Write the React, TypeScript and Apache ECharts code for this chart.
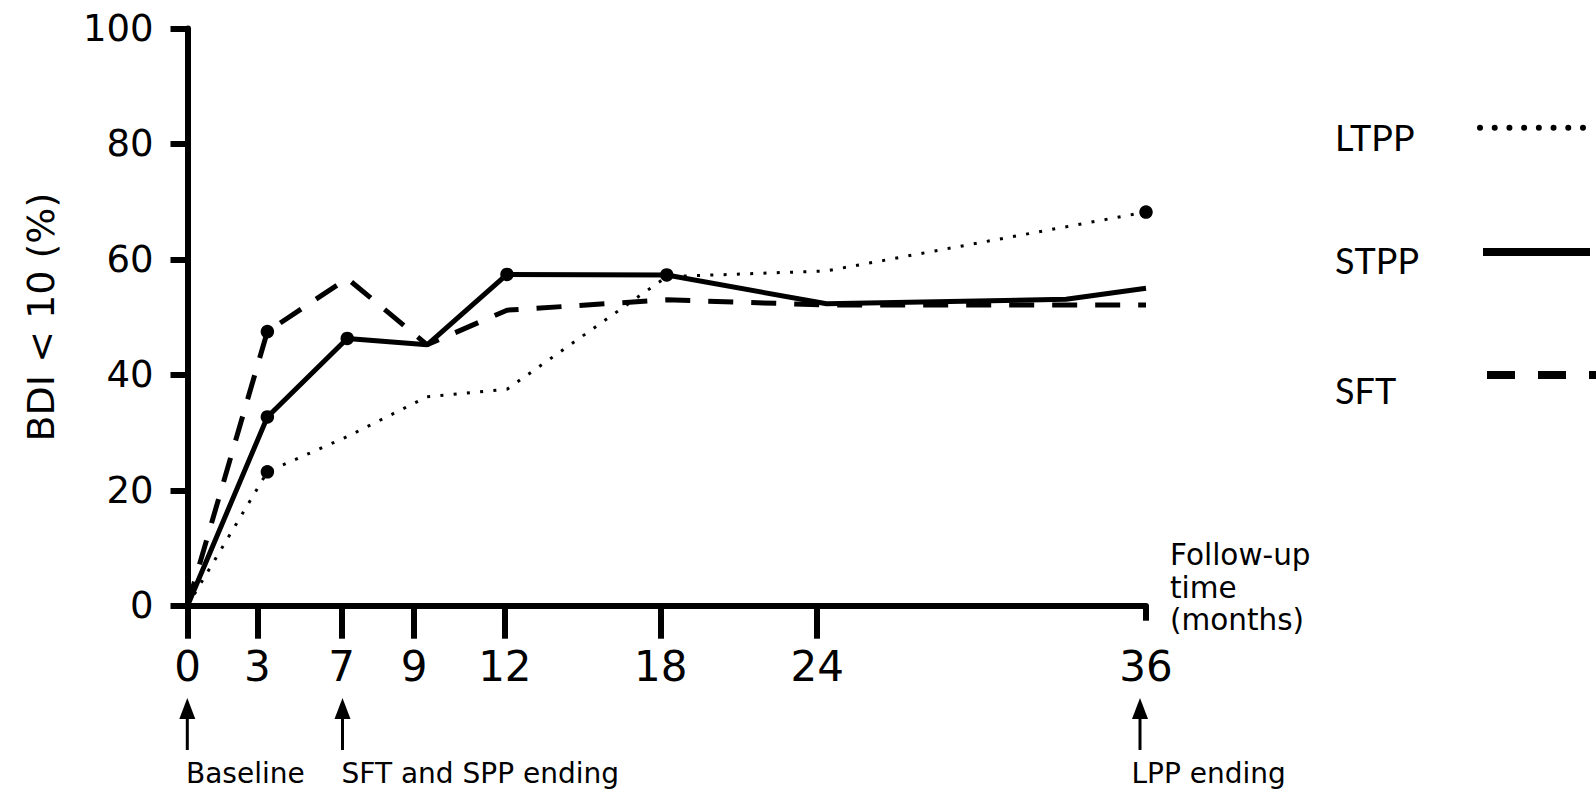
import { useEffect, useRef } from 'react';
import * as echarts from 'echarts';

// x tick labels (months) and where they sit on the axis (axis units)
const tickLabels = ['0', '3', '7', '9', '12', '18', '24', '36'];
const tickPositions = [0, 2.62, 5.79, 8.51, 11.92, 17.77, 23.65, 36];

// series (x in axis units, y = % with BDI < 10)
const ltppX = [0, 3, 6, 9, 12, 18, 24, 36];
const ltppY = [0, 23.2, 29.3, 36.2, 37.5, 57, 58, 68.2];
const ltppDots = [3, 36];

const stppX = [0, 3, 6, 9, 12, 18, 24, 33, 36];
const stppY = [0, 32.7, 46.3, 45.2, 57.4, 57.3, 52.3, 53.1, 55];
const stppDots = [3, 6, 12, 18];

const sftX = [0, 3, 6, 9, 12, 18, 24, 36];
const sftY = [0, 47.5, 56.7, 45.2, 51.2, 53, 52.1, 52.1];
const sftDots = [3];

const yTicks = [0, 20, 40, 60, 80, 100];

const FONT = 'DejaVu Sans';

function build(xs: number[], ys: number[], dots: number[]) {
  return xs.map((x, i) => ({
    value: [x, ys[i]],
    symbol: dots.includes(x) ? 'circle' : 'none',
  }));
}

export default function App() {
  const ref = useRef<HTMLDivElement>(null);
  useEffect(() => {
    if (!ref.current) return;
    const chart = echarts.init(ref.current, null, { renderer: 'svg' });
    const lineBase = { type: 'line' as const, showSymbol: true, symbolSize: 13.5, clip: false, itemStyle: { color: '#000' } };

    const arrows: any[] = [];
    const arrowX = [187.3, 342.5, 1140];
    arrowX.forEach((x) => {
      arrows.push({
        type: 'polygon',
        shape: { points: [[x, 698], [x - 8, 719], [x + 8, 719]] },
        style: { fill: '#000' },
      });
      arrows.push({
        type: 'line',
        shape: { x1: x, y1: 716, x2: x, y2: 750 },
        style: { stroke: '#000', lineWidth: 3 },
      });
    });
    const notes = [
      { t: 'Baseline', x: 186 },
      { t: 'SFT and SPP ending', x: 341.5 },
      { t: 'LPP ending', x: 1131.5 },
    ];
    notes.forEach((n) => {
      arrows.push({
        type: 'text',
        style: { text: n.t, x: n.x, y: 773, fontSize: 28, fontFamily: FONT, fill: '#000', verticalAlign: 'middle', align: 'left' },
      });
    });

    const legendItems = [
      { t: 'LTPP', ty: 136.7, ly: 127.7, x1: 1480, x2: 1590, w: 6, dash: [0.01, 14.7], cap: 'round' },
      { t: 'STPP', ty: 260, ly: 252, x1: 1483, x2: 1590, w: 8, dash: null, cap: 'butt' },
      { t: 'SFT', ty: 390, ly: 375, x1: 1487, x2: 1600, w: 8, dash: [28, 23], cap: 'butt' },
    ];
    const legend: any[] = [];
    legendItems.forEach((l) => {
      legend.push({
        type: 'text',
        style: { text: l.t, x: 1335, y: l.ty, fontSize: 36, fontFamily: 'Lato', fill: '#000', verticalAlign: 'middle' },
      });
      legend.push({
        type: 'line',
        shape: { x1: l.x1, y1: l.ly, x2: l.x2, y2: l.ly },
        style: { stroke: '#000', lineWidth: l.w, lineDash: l.dash || undefined, lineCap: l.cap },
      });
    });

    chart.setOption({
      animation: false,
      backgroundColor: '#fff',
      grid: { left: 187.5, right: 450, top: 28.5, bottom: 183.3 },
      xAxis: [
        {
          type: 'value',
          min: 0,
          max: 36,
          position: 'bottom',
          axisLine: { show: true, lineStyle: { color: '#000', width: 6 } },
          axisTick: { show: true, customValues: tickPositions.slice(0, -1), length: 33, lineStyle: { color: '#000', width: 6 } },
          axisLabel: {
            show: true,
            customValues: tickPositions,
            formatter: (v: number) => {
              const i = tickPositions.indexOf(v);
              return i >= 0 ? tickLabels[i] : '';
            },
            margin: 40,
            fontSize: 42,
            fontFamily: FONT,
            color: '#000',
          },
          splitLine: { show: false },
        },
        {
          type: 'value',
          min: 0,
          max: 36,
          position: 'bottom',
          axisLine: { show: false },
          axisTick: { show: true, customValues: [36], length: 15, lineStyle: { color: '#000', width: 6 } },
          axisLabel: { show: false },
          splitLine: { show: false },
        },
      ],
      yAxis: {
        type: 'value',
        min: 0,
        max: 100,
        interval: 20,
        name: 'BDI < 10 (%)',
        nameLocation: 'middle',
        nameGap: 128,
        nameTextStyle: { fontSize: 38, fontFamily: FONT, color: '#000' },
        axisLine: { show: true, lineStyle: { color: '#000', width: 6 } },
        axisTick: { show: true, customValues: yTicks, length: 17, lineStyle: { color: '#000', width: 6 } },
        axisLabel: { margin: 34, fontSize: 37, fontFamily: FONT, color: '#000' },
        splitLine: { show: false },
      },
      series: [
        {
          ...lineBase,
          name: 'LTPP',
          data: build(ltppX, ltppY, ltppDots),
          lineStyle: { color: '#000', width: 3, type: [3, 10.3] },
          z: 2,
        },
        {
          ...lineBase,
          name: 'STPP',
          data: build(stppX, stppY, stppDots),
          lineStyle: { color: '#000', width: 5, type: 'solid' },
          z: 3,
        },
        {
          ...lineBase,
          name: 'SFT',
          data: build(sftX, sftY, sftDots),
          lineStyle: { color: '#000', width: 5, type: [25, 18] },
          z: 2,
        },
      ],
      graphic: [
        {
          type: 'text',
          style: {
            text: 'Follow-up\ntime\n(months)',
            x: 1170,
            y: 539,
            fontSize: 29.5,
            lineHeight: 32.5,
            fontFamily: FONT,
            fill: '#000',
            verticalAlign: 'top',
          },
        },
        ...arrows,
        ...legend,
      ],
    });
    return () => chart.dispose();
  }, []);
  return (
    <div
      ref={ref}
      style={{ position: 'fixed', left: 0, top: 0, width: 1596, height: 789, background: '#fff' }}
    />
  );
}
